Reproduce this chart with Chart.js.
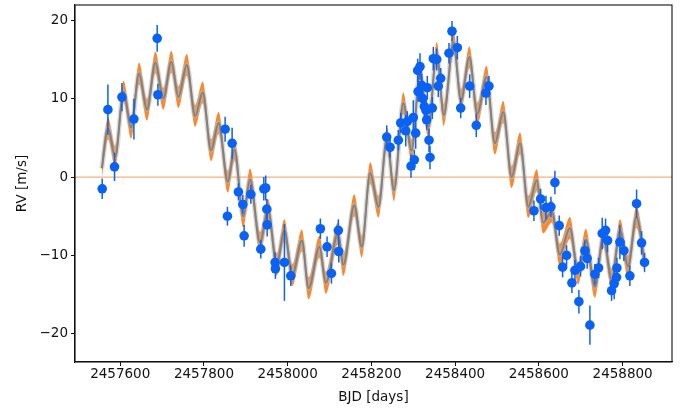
<!DOCTYPE html>
<html>
<head>
<meta charset="utf-8">
<script src="https://cdn.jsdelivr.net/npm/chart.js@4/dist/chart.umd.min.js"></script>
<style>
  html, body { margin: 0; padding: 0; background: #fff; }
  #wrap { width: 688px; height: 410px; position: relative; }
</style>
</head>
<body>
<div id="wrap"><canvas id="rv"></canvas></div>
<script>
// Radial-velocity measurements (BJD, m/s) with their 1-sigma uncertainties
const obsDays = [
  2457557.0, 2457570.6, 2457586.4, 2457604.1, 2457632.7, 2457688.3, 2457690.0,
  2457850.6, 2457856.1, 2457867.3, 2457882.4, 2457892.9, 2457896.0, 2457912.0,
  2457935.8, 2457943.0, 2457947.5, 2457950.2, 2457951.0, 2457970.0, 2457970.7,
  2457992.2, 2458007.4, 2458078.1, 2458094.1, 2458104.5, 2458121.1, 2458122.0,
  2458236.6, 2458244.5, 2458264.3, 2458270.0, 2458282.0, 2458285.8, 2458294.6,
  2458300.1, 2458302.5, 2458305.8, 2458310.6, 2458311.5, 2458316.1, 2458320.2,
  2458322.6, 2458326.4, 2458330.4, 2458332.0, 2458333.5, 2458337.6, 2458340.0,
  2458345.5, 2458347.9, 2458356.0, 2458359.8, 2458365.5, 2458385.3, 2458392.5,
  2458405.2, 2458413.3, 2458434.7, 2458450.5, 2458473.6, 2458480.8,
  2458588.2, 2458604.2, 2458616.9, 2458628.8, 2458638.3, 2458648.6, 2458656.7,
  2458666.2, 2458678.9, 2458686.1, 2458695.6, 2458699.6, 2458709.9, 2458715.4,
  2458721.9, 2458733.8, 2458742.6, 2458751.3, 2458759.3, 2458764.1, 2458773.7,
  2458779.9, 2458785.6, 2458786.4, 2458793.5, 2458803.1, 2458817.4, 2458833.4,
  2458845.3, 2458852.4
];
const obsRV = [
  -1.5, 8.6, 1.3, 10.2, 7.4, 17.7, 10.5,
  6.1, -5.0, 4.3, -1.9, -3.5, -7.5, -2.2,
  -9.2, -1.5, -1.4, -4.1, -6.1, -10.9, -11.7,
  -10.9, -12.6, -6.6, -8.9, -12.3, -6.8, -9.5,
  5.1, 3.8, 4.7, 6.9, 5.9, 7.1, 1.4,
  7.6, 2.2, 5.6, 13.6, 10.9, 14.1, 11.7,
  10.0, 9.0, 8.5, 7.3, 11.4, 4.7, 2.5,
  8.8, 15.1, 15.0, 11.6, 12.6, 15.8, 18.6,
  16.5, 8.8, 11.6, 6.6, 10.7, 11.6,
  -4.3, -2.8, -3.9, -3.8, -0.7, -6.2, -11.5,
  -10.0, -13.5, -11.9, -15.9, -11.4, -9.4, -10.4,
  -18.9, -12.4, -11.6, -7.2, -6.8, -8.1, -14.5,
  -13.6, -12.8, -11.6, -8.3, -9.4, -12.6, -3.4,
  -8.4, -10.9
];
const obsErr = [
  1.3, 3.2, 1.8, 1.8, 2.6, 1.7, 1.4,
  1.6, 1.2, 2.0, 1.1, 1.2, 1.4, 1.2,
  1.2, 1.5, 1.6, 1.3, 1.5, 1.3, 1.3,
  4.9, 1.3, 1.3, 1.3, 1.3, 1.4, 1.4,
  1.5, 1.3, 1.3, 1.3, 2.0, 1.3, 1.5,
  2.2, 1.3, 2.0, 1.5, 1.3, 1.7, 1.5,
  1.3, 1.3, 1.3, 1.3, 1.5, 1.5, 1.5,
  1.4, 1.5, 1.4, 1.4, 1.3, 1.3, 1.3,
  1.5, 1.3, 1.5, 1.5, 1.5, 1.3,
  1.3, 1.3, 1.5, 1.3, 1.5, 1.3, 1.3,
  1.3, 1.3, 1.3, 1.5, 1.3, 1.3, 1.3,
  2.5, 1.3, 1.3, 2.0, 1.5, 1.5, 1.3,
  2.0, 1.3, 1.3, 2.2, 1.3, 1.3, 1.8,
  1.5, 1.2
];

// Best-fit model: turning points of the curve (BJD, m/s)
const modelDays = [
  2457556, 2457571, 2457588, 2457608, 2457626, 2457645, 2457664, 2457684, 2457703,
  2457722, 2457739, 2457759, 2457779, 2457797, 2457817, 2457835, 2457857, 2457873,
  2457894, 2457910, 2457934, 2457953, 2457974, 2457992, 2458011, 2458034,
  2458050, 2458076, 2458091, 2458120, 2458133, 2458159, 2458177, 2458197,
  2458217, 2458237, 2458254, 2458276, 2458296, 2458316, 2458336, 2458356, 2458373,
  2458396, 2458414, 2458434, 2458453, 2458475, 2458495, 2458515, 2458535,
  2458555, 2458575, 2458595, 2458610, 2458631, 2458650, 2458674, 2458694,
  2458712, 2458734, 2458754, 2458774, 2458794, 2458813, 2458833, 2458853
];
const modelRV = [
  1.1, 6.2, 2.6, 10.9, 6.3, 13.2, 8.6, 14.6, 10.0,
  14.7, 10.2, 14.3, 7.8, 10.8, 3.4, 6.9, -0.6, 3.5,
  -5.0, -0.3, -8.4, -4.2, -11.2, -6.8, -12.5, -8.1,
  -14.2, -8.9, -13.5, -7.2, -11.2, -3.6, -8.9, 0.5,
  -3.8, 4.9, -1.7, 9.4, 3.4, 13.2, 6.4, 15.8, 7.9,
  17.2, 9.8, 15.3, 8.1, 12.8, 4.3, 8.3, 0.0,
  4.3, -3.8, -0.4, -5.8, -4.4, -9.9, -6.5, -12.3,
  -8.0, -14.0, -7.6, -13.1, -6.8, -11.4, -5.1, -11.0
];
// Half-width of the model uncertainty band (m/s)
const bandHalfWidth = 1.4;

// Axis limits and tick marks
const xRange = [2457492, 2458918];
const yRange = [-23.6, 21.95];
const xTickValues = [2457600, 2457800, 2458000, 2458200, 2458400, 2458600, 2458800];
const yTickValues = [-20, -10, 0, 10, 20];

const FONT = 'DejaVu Sans';
const BLUE = '#0a62f5';
const ORANGE = 'rgb(248,136,50)';

const pts = (xs, ys) => xs.map((x, i) => ({ x: x, y: ys[i] }));
const upperBand = pts(modelDays, modelRV.map(v => v + bandHalfWidth));
const lowerBand = pts(modelDays, modelRV.map(v => v - bandHalfWidth));
const modelLine = pts(modelDays, modelRV);
const obsPoints = pts(obsDays, obsRV);

// Horizontal reference line at zero velocity
const zeroLine = {
  id: 'zeroLine',
  beforeDatasetsDraw(chart) {
    const { ctx, chartArea, scales } = chart;
    const y = scales.y.getPixelForValue(0);
    ctx.save();
    ctx.strokeStyle = 'rgba(245,150,80,0.75)';
    ctx.lineWidth = 1.3;
    ctx.beginPath();
    ctx.moveTo(chartArea.left, y);
    ctx.lineTo(chartArea.right, y);
    ctx.stroke();
    ctx.restore();
  }
};

// Vertical error bars with the measurement markers on top
const errorBars = {
  id: 'errorBars',
  afterDatasetsDraw(chart) {
    const { ctx, scales } = chart;
    ctx.save();
    ctx.strokeStyle = BLUE;
    ctx.lineWidth = 1.5;
    for (let i = 0; i < obsDays.length; i++) {
      const x = scales.x.getPixelForValue(obsDays[i]);
      const y1 = scales.y.getPixelForValue(obsRV[i] - obsErr[i]);
      const y2 = scales.y.getPixelForValue(obsRV[i] + obsErr[i]);
      ctx.beginPath();
      ctx.moveTo(x, y1);
      ctx.lineTo(x, y2);
      ctx.stroke();
    }
    ctx.fillStyle = BLUE;
    for (let i = 0; i < obsDays.length; i++) {
      const x = scales.x.getPixelForValue(obsDays[i]);
      const y = scales.y.getPixelForValue(obsRV[i]);
      ctx.beginPath();
      ctx.arc(x, y, 4.8, 0, Math.PI * 2);
      ctx.fill();
    }
    ctx.restore();
  }
};

// Closed frame around the plotting area
const frame = {
  id: 'frame',
  afterDraw(chart) {
    const { ctx, chartArea } = chart;
    ctx.save();
    ctx.strokeStyle = '#111';
    ctx.lineWidth = 1.1;
    ctx.strokeRect(chartArea.left, chartArea.top, chartArea.right - chartArea.left, chartArea.bottom - chartArea.top);
    ctx.restore();
  }
};

const fmtMinus = v => (v < 0 ? '\u2212' + Math.abs(v) : String(v));
const noEdgePadding = s => { s.paddingTop = 0; s.paddingBottom = 0; s.paddingLeft = 0; s.paddingRight = 0; };

new Chart(document.getElementById('rv'), {
  type: 'line',
  data: {
    datasets: [
      { data: upperBand, borderWidth: 0, pointRadius: 0, fill: '+1',
        backgroundColor: ORANGE, borderColor: 'rgba(0,0,0,0)', cubicInterpolationMode: 'monotone', order: 5 },
      { data: lowerBand, borderWidth: 0, pointRadius: 0, fill: false,
        borderColor: 'rgba(0,0,0,0)', cubicInterpolationMode: 'monotone', order: 4 },
      { data: modelLine, borderWidth: 5, pointRadius: 0, fill: false,
        borderColor: 'rgba(185,185,185,0.5)', cubicInterpolationMode: 'monotone', order: 3 },
      { data: modelLine, borderWidth: 2, pointRadius: 0, fill: false,
        borderColor: 'rgba(128,128,128,1)', cubicInterpolationMode: 'monotone', order: 2 },
      { type: 'scatter', data: obsPoints, pointRadius: 0, showLine: false,
        backgroundColor: BLUE, order: 1 }
    ]
  },
  options: {
    responsive: true,
    maintainAspectRatio: false,
    animation: false,
    events: [],
    layout: { padding: { left: 0, right: 16, top: 5, bottom: 0 } },
    plugins: { legend: { display: false }, tooltip: { enabled: false } },
    scales: {
      x: {
        type: 'linear',
        min: xRange[0], max: xRange[1],
        afterBuildTicks: s => { s.ticks = xTickValues.map(v => ({ value: v })); },
        afterFit: s => { s.height = 48; noEdgePadding(s); },
        grid: { display: true, drawOnChartArea: false, drawTicks: true, tickLength: 4, color: '#111' },
        border: { display: true, color: '#111', width: 1.1 },
        ticks: { color: '#111', padding: 0, maxRotation: 0, autoSkip: false,
          font: { family: FONT, size: 13.5 }, callback: v => String(v) },
        title: { display: true, text: 'BJD [days]', color: '#111',
          font: { family: FONT, size: 13.5 }, padding: { top: 0, bottom: 4 } }
      },
      y: {
        type: 'linear',
        min: yRange[0], max: yRange[1],
        afterBuildTicks: s => { s.ticks = yTickValues.map(v => ({ value: v })); },
        afterFit: s => { s.width = 75; noEdgePadding(s); },
        grid: { display: true, drawOnChartArea: false, drawTicks: true, tickLength: 4, color: '#111' },
        border: { display: true, color: '#111', width: 1.1 },
        ticks: { color: '#111', padding: 3, font: { family: FONT, size: 13.5 }, callback: v => fmtMinus(v) },
        title: { display: true, text: 'RV [m/s]', color: '#111',
          font: { family: FONT, size: 13.5 }, padding: { top: 14, bottom: 0 } }
      }
    }
  },
  plugins: [zeroLine, errorBars, frame]
});
</script>
</body>
</html>
